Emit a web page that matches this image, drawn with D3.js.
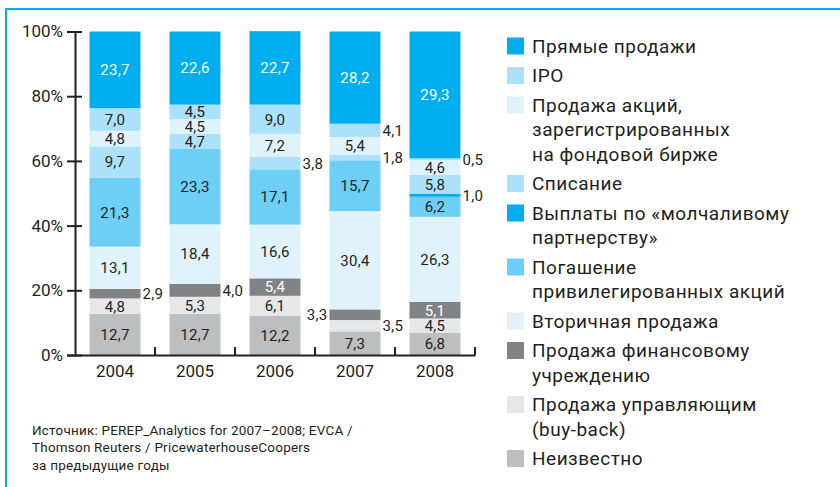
<!DOCTYPE html>
<html>
<head>
<meta charset="utf-8">
<script src="https://cdn.jsdelivr.net/npm/d3@7"></script>
<style>
  body { margin: 0; background: #fff; }
  svg { display: block; font-family: Roboto, "Noto Sans", sans-serif; }
</style>
</head>
<body>
<div id="chart"></div>
<script>
// data, bottom of the stack first
var years = ["2004", "2005", "2006", "2007", "2008"];
var unknown    = [12.7, 12.7, 12.2, 7.3, 6.8];
var buyBack    = [4.8, 5.3, 6.1, 3.5, 4.5];
var finInst    = [2.9, 4.0, 5.4, 3.3, 5.1];
var secondary  = [13.1, 18.4, 16.6, 30.4, 26.3];
var redemption = [21.3, 23.3, 17.1, 15.7, 6.2];
var silent     = [0, 0, 0, 0, 1.0];
var writeOff   = [9.7, 4.7, 3.8, 1.8, 5.8];
var listed     = [4.8, 4.5, 7.2, 5.4, 4.6];
var ipo        = [7.0, 4.5, 9.0, 4.1, 0.5];
var trade      = [23.7, 22.6, 22.7, 28.2, 29.3];

var yTicks = [0, 20, 40, 60, 80, 100];

var keys = ["unknown", "buyBack", "finInst", "secondary", "redemption", "silent", "writeOff", "listed", "ipo", "trade"];
var labels = [
    "Неизвестно",
    "Продажа управляющим\n(buy-back)",
    "Продажа финансовому\nучреждению",
    "Вторичная продажа",
    "Погашение\nпривилегированных акций",
    "Выплаты по «молчаливому\nпартнерству»",
    "Списание",
    "Продажа акций,\nзарегистрированных\nна фондовой бирже",
    "IPO",
    "Прямые продажи"
];
var colors = ["#bcbec0", "#e6e7e8", "#808285", "#e0f3fc", "#6dcff6", "#00aeef", "#abe1fa", "#e0f3fc", "#abe1fa", "#00aeef"];
var whiteText = ["finInst", "silent", "trade"];

// small segments labelled beside the bar
var outside = [
    ["2004", "finInst", "right"],
    ["2005", "finInst", "right"],
    ["2006", "writeOff", "right"],
    ["2007", "finInst", "left"],
    ["2007", "buyBack", "right"],
    ["2007", "writeOff", "right"],
    ["2007", "ipo", "right"],
    ["2008", "silent", "right"],
    ["2008", "ipo", "right"]
];

var source = [
    "Источник: PEREP_Analytics for 2007–2008; EVCA /",
    "Thomson Reuters / PricewaterhouseCoopers",
    "за предыдущие годы"
];

var cols = [unknown, buyBack, finInst, secondary, redemption, silent, writeOff, listed, ipo, trade];
var rows = years.map(function(y, i) {
    var r = { year: y };
    keys.forEach(function(k, j) { r[k] = cols[j][i]; });
    return r;
});

var width = 840, height = 487;
var svg = d3.select("#chart").append("svg")
    .attr("width", width)
    .attr("height", height);

// frame
svg.append("line").attr("x1", 5).attr("x2", width).attr("y1", 9).attr("y2", 9)
    .attr("stroke", "#00aeef").attr("stroke-width", 2);
svg.append("line").attr("x1", 6).attr("x2", 6).attr("y1", 8).attr("y2", height)
    .attr("stroke", "#00aeef").attr("stroke-width", 2);

var x = d3.scaleBand()
    .domain(years)
    .range([75, 475])
    .paddingInner(0.3625)
    .paddingOuter(0.18125);

var y = d3.scaleLinear()
    .domain([0, 100])
    .range([355, 31.5]);

var stacked = d3.stack().keys(keys)(rows);
// top segment takes the rest of the bar up to 100%
stacked[stacked.length - 1].forEach(function(d) { d[1] = Math.max(d[1], 100); });

var textColor = "#231f20";

var g = svg.append("g");

stacked.forEach(function(layer, li) {
    var key = layer.key;
    g.selectAll(".seg-" + key)
        .data(layer)
        .enter().append("rect")
        .attr("x", function(d) { return x(d.data.year); })
        .attr("width", x.bandwidth())
        .attr("y", function(d) { return y(d[1]); })
        .attr("height", function(d) { return y(d[0]) - y(d[1]); })
        .attr("fill", colors[li]);
});

var fmt = function(v) { return d3.format(".1f")(v).replace(".", ","); };

stacked.forEach(function(layer) {
    var key = layer.key;
    layer.forEach(function(d) {
        var v = d.data[key];
        if (!v) return;
        var side = outside.filter(function(o) { return o[0] === d.data.year && o[1] === key; });
        var cy = (y(d[0]) + y(d[1])) / 2;
        var t = g.append("text")
            .attr("y", cy)
            .attr("dy", "0.36em")
            .attr("font-size", 15)
            .attr("letter-spacing", 0.3)
            .text(fmt(v));
        if (side.length) {
            if (side[0][2] === "right") {
                t.attr("x", x(d.data.year) + x.bandwidth() + 2).attr("text-anchor", "start");
            } else {
                t.attr("x", x(d.data.year) - 2).attr("text-anchor", "end");
            }
            t.attr("fill", textColor);
        } else {
            t.attr("x", x(d.data.year) + x.bandwidth() / 2)
                .attr("text-anchor", "middle")
                .attr("fill", whiteText.indexOf(key) >= 0 ? "#fff" : textColor);
        }
    });
});

// y axis
var yAxis = svg.append("g")
    .attr("transform", "translate(75,0)")
    .call(d3.axisLeft(y).tickValues(yTicks).tickFormat(function(d) { return d + "%"; }).tickSizeOuter(0).tickSize(8));
yAxis.select(".domain").attr("stroke", "#231f20").attr("stroke-width", 2);
yAxis.selectAll(".tick line").attr("x2", 7).attr("x1", -8).attr("stroke", "#231f20").attr("stroke-width", 2);
yAxis.selectAll(".tick text")
    .attr("x", -12)
    .attr("font-size", 17)
    .attr("font-family", "Roboto")
    .attr("fill", textColor);

// x axis
var xAxis = svg.append("g")
    .attr("transform", "translate(0,355)")
    .call(d3.axisBottom(x).tickSize(0).tickSizeOuter(0).tickPadding(10));
xAxis.select(".domain").attr("stroke", "#231f20").attr("stroke-width", 2);
xAxis.selectAll(".tick text")
    .attr("font-size", 17)
    .attr("font-family", "Roboto")
    .attr("fill", textColor);
// separators between the years
xAxis.selectAll(".sep")
    .data(years)
    .enter().append("line")
    .attr("x1", function(d) { return x(d) + x.bandwidth() + x.step() * x.paddingInner() / 2; })
    .attr("x2", function(d) { return x(d) + x.bandwidth() + x.step() * x.paddingInner() / 2; })
    .attr("y1", -8)
    .attr("y2", 0)
    .attr("stroke", "#231f20")
    .attr("stroke-width", 2);

// legend, top to bottom
var legend = svg.append("g").attr("font-size", 19).attr("letter-spacing", 0.5).attr("fill", textColor);
var ly = 46;
for (var i = keys.length - 1; i >= 0; i--) {
    var lines = labels[i].split("\n");
    legend.append("rect")
        .attr("x", 507)
        .attr("y", ly - 8.5)
        .attr("width", 17)
        .attr("height", 17)
        .attr("fill", colors[i]);
    lines.forEach(function(line, j) {
        legend.append("text")
            .attr("x", 532)
            .attr("y", ly + j * 24.5)
            .attr("dy", "0.36em")
            .text(line);
    });
    ly += (lines.length - 1) * 24.5 + 29.5;
}

// source note
svg.append("g").selectAll("text")
    .data(source)
    .enter().append("text")
    .attr("x", 32)
    .attr("y", function(d, i) { return 430 + i * 17.5; })
    .attr("dy", "0.36em")
    .attr("font-size", 13.5)
    .attr("letter-spacing", 0.2)
    .attr("fill", textColor)
    .text(function(d) { return d; });
</script>
</body>
</html>
